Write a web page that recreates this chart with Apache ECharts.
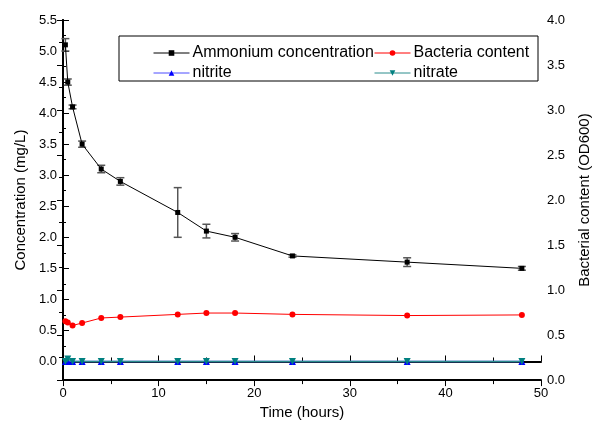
<!DOCTYPE html>
<html>
<head>
<meta charset="utf-8">
<script src="https://cdn.jsdelivr.net/npm/echarts@6/dist/echarts.min.js"></script>
<style>html,body{margin:0;padding:0;background:#fff}#c{width:606px;height:425px}</style>
</head>
<body>
<div id="c"></div>
<script>
const hours = [0.25, 0.5, 1, 2, 4, 6, 12, 15, 18, 24, 36, 48];
const ammonium = [5.1, 4.5, 4.1, 3.5, 3.1, 2.9, 2.4, 2.1, 2.0, 1.7, 1.6, 1.5];
const ammoniumErr = [0.1, 0.05, 0.03, 0.05, 0.06, 0.06, 0.4, 0.11, 0.06, 0.02, 0.07, 0.03];
const bacteria = [0.655, 0.64, 0.607, 0.634, 0.69, 0.70, 0.73, 0.745, 0.745, 0.73, 0.717, 0.724];
const nitrite = [0.0, 0.0, 0.0, 0.0, 0.0, 0.0, 0.0, 0.0, 0.0, 0.0, 0.0, 0.0];
const nitrate = [0.0, 0.04, 0.0, 0.0, 0.0, 0.0, 0.0, 0.0, 0.0, 0.0, 0.0, 0.0];
const leftTicks = [0, 0.5, 1, 1.5, 2, 2.5, 3, 3.5, 4, 4.5, 5, 5.5];
const leftMinor = [0.25, 0.75, 1.25, 1.75, 2.25, 2.75, 3.25, 3.75, 4.25, 4.75, 5.25];

const FONT = 'Liberation Sans, Arial, sans-serif';
const pair = (xs, ys) => xs.map((x, i) => [x, ys[i]]);
const errData = hours.map((h, i) => [h, ammonium[i] - ammoniumErr[i], ammonium[i] + ammoniumErr[i]]);

const chart = echarts.init(document.getElementById('c'), null, {renderer: 'canvas'});
const axisLine = {show: true, lineStyle: {color: '#000', width: 2}};
const lbl = {color: '#000', fontSize: 13, fontFamily: FONT};

function legendAt(name, left, top) {
  return {
    data: [name], left: left, top: top, padding: 0, itemWidth: 36, itemHeight: 7, itemGap: 4,
    lineStyle: {width: 1},
    textStyle: {color: '#000', fontSize: 16, fontFamily: FONT, padding: [0, 0, 0, -2]},
    selectedMode: false
  };
}

chart.setOption({
  animation: false,
  backgroundColor: '#fff',
  grid: {left: 63, right: 65, top: 20, bottom: 43, containLabel: false},
  legend: [
    legendAt('Ammonium concentration', 153, 45),
    legendAt('Bacteria content', 374, 45),
    legendAt('nitrite', 153, 65),
    legendAt('nitrate', 374, 65)
  ],
  graphic: [{
    type: 'rect', z: 5, silent: true,
    shape: {x: 119, y: 36, width: 419, height: 45},
    style: {fill: 'rgba(0,0,0,0)', stroke: '#000', lineWidth: 1}
  }],
  xAxis: [{
    type: 'value', min: 0, max: 50, interval: 10,
    name: 'Time (hours)', nameLocation: 'middle', nameGap: 24,
    nameTextStyle: {color: '#000', fontSize: 15, fontFamily: FONT},
    axisLine: axisLine,
    axisTick: {inside: true, length: 6, lineStyle: {color: '#000', width: 1}},
    minorTick: {show: true, splitNumber: 2, length: 4, lineStyle: {color: '#000'}},
    axisLabel: Object.assign({margin: 7}, lbl),
    splitLine: {show: false}
  }, {
    type: 'value', position: 'top', min: 0, max: 50, interval: 10,
    axisLine: axisLine,
    axisTick: {inside: true, length: 6, lineStyle: {color: '#000', width: 1}},
    minorTick: {show: true, splitNumber: 2, length: 4, lineStyle: {color: '#000'}},
    axisLabel: {show: false}, splitLine: {show: false}
  }],
  yAxis: [{
    type: 'value', position: 'left', min: -0.3, max: 5.5,
    name: 'Concentration (mg/L)', nameLocation: 'middle', nameGap: 34,
    nameTextStyle: {color: '#000', fontSize: 15, fontFamily: FONT},
    axisLine: axisLine,
    axisTick: {inside: true, length: 6, customValues: leftTicks, lineStyle: {color: '#000', width: 1}},
    axisLabel: Object.assign({margin: 6, customValues: leftTicks, formatter: v => v.toFixed(1)}, lbl),
    splitLine: {show: false}
  }, {
    type: 'value', position: 'right', min: 0, max: 4, interval: 0.5,
    name: 'Bacterial content (OD600)', nameLocation: 'middle', nameGap: 36, nameRotate: 90,
    nameTextStyle: {color: '#000', fontSize: 15, fontFamily: FONT},
    axisLine: axisLine,
    axisTick: {inside: true, length: 6, lineStyle: {color: '#000', width: 1}},
    minorTick: {show: true, splitNumber: 2, length: 4, lineStyle: {color: '#000'}},
    axisLabel: Object.assign({margin: 6, formatter: v => v.toFixed(1)}, lbl),
    splitLine: {show: false}
  }, {
    type: 'value', position: 'left', min: -0.3, max: 5.5,
    axisLine: {show: false},
    axisTick: {inside: true, length: 3, customValues: leftMinor, lineStyle: {color: '#000', width: 1}},
    axisLabel: {show: false}, splitLine: {show: false}
  }],
  series: [{
    name: 'Ammonium concentration', type: 'line', xAxisIndex: 0, yAxisIndex: 0,
    data: pair(hours, ammonium), symbol: 'rect', symbolSize: 5, z: 4,
    itemStyle: {color: '#000'}, lineStyle: {color: '#000', width: 1}
  }, {
    type: 'custom', xAxisIndex: 0, yAxisIndex: 0, z: 3, silent: true,
    data: errData,
    renderItem: function (params, api) {
      const x = api.value(0);
      const lo = api.coord([x, api.value(1)]);
      const hi = api.coord([x, api.value(2)]);
      const w = 4;
      const st = {stroke: '#555', lineWidth: 1.5, fill: 'none'};
      return {type: 'group', children: [
        {type: 'line', shape: {x1: lo[0], y1: lo[1], x2: hi[0], y2: hi[1]}, style: st},
        {type: 'line', shape: {x1: lo[0] - w, y1: lo[1], x2: lo[0] + w, y2: lo[1]}, style: st},
        {type: 'line', shape: {x1: hi[0] - w, y1: hi[1], x2: hi[0] + w, y2: hi[1]}, style: st}
      ]};
    }
  }, {
    name: 'Bacteria content', type: 'line', xAxisIndex: 0, yAxisIndex: 1,
    data: pair(hours, bacteria), symbol: 'circle', symbolSize: 6,
    itemStyle: {color: '#ff0000'}, lineStyle: {color: '#ff0000', width: 1}
  }, {
    name: 'nitrite', type: 'line', xAxisIndex: 0, yAxisIndex: 0,
    data: pair(hours, nitrite), symbol: 'triangle', symbolSize: 7,
    itemStyle: {color: '#0000ff'}, lineStyle: {color: '#4d4dff', width: 1.5}
  }, {
    name: 'nitrate', type: 'line', xAxisIndex: 0, yAxisIndex: 0,
    data: pair(hours, nitrate), symbol: 'triangle', symbolRotate: 180, symbolSize: 7,
    itemStyle: {color: '#008080'}, lineStyle: {color: '#2a8c8c', width: 1.5}
  }]
});
</script>
</body>
</html>
